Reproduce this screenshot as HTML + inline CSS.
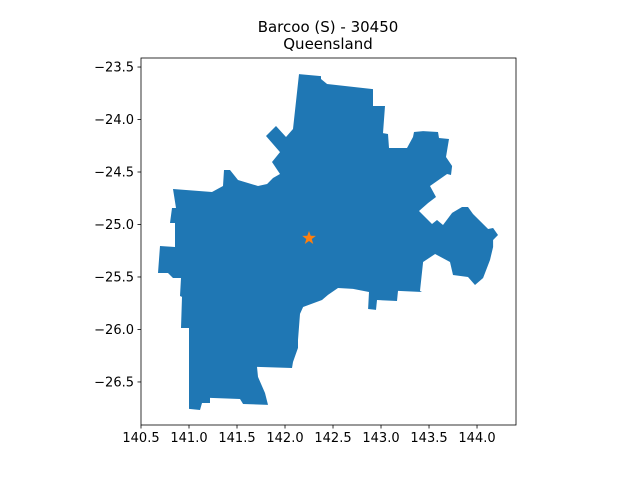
<!DOCTYPE html>
<html><head><meta charset="utf-8"><style>
body{margin:0;background:#fff}
svg text{font-family:"DejaVu Sans","Liberation Sans",sans-serif;fill:#000}
</style></head><body>
<svg id="chart" width="640" height="480" viewBox="0 0 640 480" xmlns="http://www.w3.org/2000/svg">
<rect width="640" height="480" fill="#fff"/>
<text x="328" y="32" font-size="15" text-anchor="middle">Barcoo (S) - 30450</text>
<text x="328" y="49" font-size="15" text-anchor="middle">Queensland</text>
<g id="plot"></g>
</svg>
<script>
const lon=[142.146,142.375,142.375,142.438,142.917,142.917,143.042,143.021,143.073,143.083,143.271,143.333,143.344,143.438,143.594,143.604,143.708,143.677,143.740,143.729,143.688,143.510,143.573,143.490,143.396,143.531,143.583,143.646,143.740,143.844,143.906,143.958,144.115,144.167,144.219,144.167,144.167,144.135,144.063,143.979,143.906,143.750,143.719,143.563,143.438,143.406,143.427,143.177,143.167,142.958,142.948,142.865,142.875,142.708,142.552,142.448,142.385,142.188,142.156,142.135,142.135,142.083,142.073,141.708,141.719,141.792,141.823,141.563,141.531,141.219,141.219,141.135,141.115,141.000,141.000,140.917,140.927,140.906,140.917,140.833,140.781,140.677,140.698,140.854,140.854,140.802,140.823,140.865,140.833,141.240,141.354,141.365,141.427,141.510,141.719,141.813,141.875,141.948,141.865,141.948,141.802,141.906,142.010,142.083];
const lat=[-23.567,-23.586,-23.614,-23.662,-23.710,-23.871,-23.871,-24.129,-24.138,-24.271,-24.271,-24.167,-24.119,-24.110,-24.119,-24.176,-24.186,-24.357,-24.443,-24.529,-24.519,-24.633,-24.738,-24.795,-24.871,-24.995,-24.957,-25.005,-24.890,-24.833,-24.833,-24.900,-25.043,-25.033,-25.100,-25.148,-25.214,-25.338,-25.510,-25.576,-25.500,-25.481,-25.357,-25.281,-25.357,-25.633,-25.643,-25.633,-25.729,-25.719,-25.814,-25.805,-25.643,-25.614,-25.605,-25.671,-25.719,-25.786,-25.852,-26.100,-26.176,-26.310,-26.367,-26.357,-26.452,-26.605,-26.719,-26.710,-26.662,-26.652,-26.700,-26.700,-26.767,-26.757,-25.986,-25.986,-25.690,-25.681,-25.510,-25.510,-25.462,-25.462,-25.205,-25.214,-24.986,-24.986,-24.843,-24.843,-24.662,-24.690,-24.633,-24.481,-24.481,-24.576,-24.633,-24.614,-24.557,-24.519,-24.405,-24.310,-24.157,-24.062,-24.167,-24.090];
const centroid=[142.25,-25.13];
const xTicks=[140.5,141.0,141.5,142.0,142.5,143.0,143.5,144.0];
const yTicks=[-23.5,-24.0,-24.5,-25.0,-25.5,-26.0,-26.5];
const xlim=[140.5,144.406], ylim=[-26.91,-23.414];
const L=141,R=516,T=58,B=425;
const sx=v=>L+(v-xlim[0])/(xlim[1]-xlim[0])*(R-L);
const sy=v=>B-(v-ylim[0])/(ylim[1]-ylim[0])*(B-T);
const NS="http://www.w3.org/2000/svg", g=document.getElementById('plot');
function mk(t,a){const e=document.createElementNS(NS,t);for(const k in a)e.setAttribute(k,a[k]);g.appendChild(e);return e;}
const poly=mk('polygon',{points:lon.map((x,i)=>sx(x).toFixed(1)+','+sy(lat[i]).toFixed(1)).join(' '),fill:'#1f77b4'});


const cx=sx(centroid[0]),cy=sy(centroid[1]);let pts=[];
for(let i=0;i<10;i++){const r=i%2?2.9:7.2,a=-Math.PI/2+i*Math.PI/5;pts.push((cx+r*Math.cos(a)).toFixed(1)+','+(cy+r*Math.sin(a)).toFixed(1));}
const star=mk('polygon',{points:pts.join(' '),fill:'#ff7f0e'});


const frame=mk('rect',{x:L,y:T,width:R-L,height:B-T,fill:'none',stroke:'#000','stroke-width':0.8});


xTicks.forEach(v=>{const x=sx(v);
 const tk=mk('line',{x1:x,x2:x,y1:B,y2:B+3.5,stroke:'#000','stroke-width':0.8});
 
 
 const t=mk('text',{x:x,y:B+17,'font-size':'13','text-anchor':'middle'});t.textContent=v.toFixed(1);
 
 
});
yTicks.forEach(v=>{const y=sy(v);
 const tk=mk('line',{x1:L-3.5,x2:L,y1:y,y2:y,stroke:'#000','stroke-width':0.8});
 
 
 const t=mk('text',{x:L-7,y:y+4.5,'font-size':'13','text-anchor':'end'});t.textContent='\u2212'+Math.abs(v).toFixed(1);
 
 
});
</script>
</body></html>
